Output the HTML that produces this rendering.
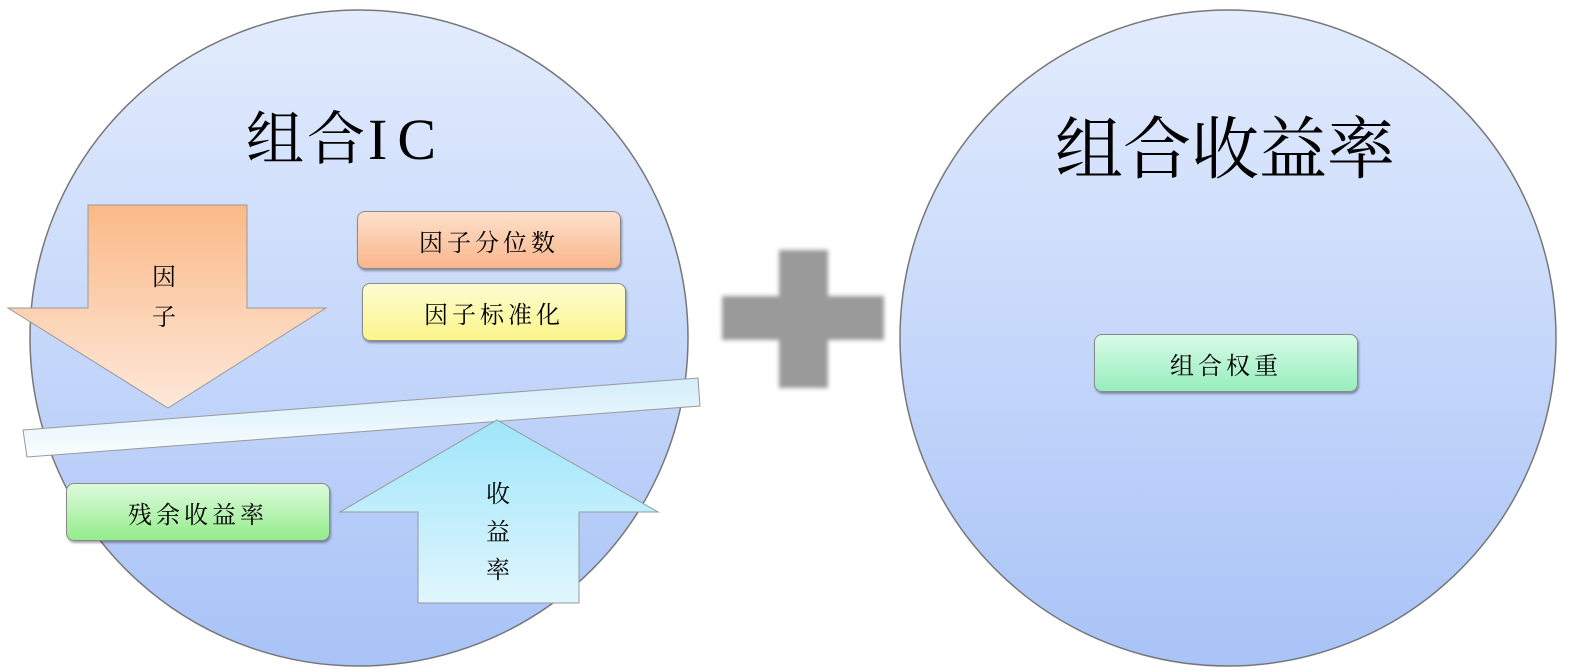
<!DOCTYPE html>
<html><head><meta charset="utf-8"><style>
body{margin:0;width:1569px;height:672px;background:#fff;overflow:hidden;position:relative;font-family:"Liberation Serif","Noto Serif CJK SC",serif}
.t{position:absolute;color:#000;white-space:nowrap}
.box{position:absolute;width:262px;height:56px;border:1px solid #8a8a8a;border-radius:8px;box-shadow:1px 2px 2px rgba(0,0,0,.35);display:flex;align-items:center;justify-content:center;font-size:24px;letter-spacing:4px}
</style></head><body>
<svg width="1569" height="672" style="position:absolute;left:0;top:0">
<defs>
<linearGradient id="c" x1="0" y1="0" x2="0" y2="1"><stop offset="0" stop-color="#e3ecfd"/><stop offset="1" stop-color="#a9c3f7"/></linearGradient>
<linearGradient id="o" x1="0" y1="0" x2="0" y2="1"><stop offset="0" stop-color="#fbb987"/><stop offset="1" stop-color="#fde8da"/></linearGradient>
<linearGradient id="b" x1="0" y1="0" x2="0" y2="1"><stop offset="0" stop-color="#9fe6fb"/><stop offset="1" stop-color="#e0f6fd"/></linearGradient>
<linearGradient id="w" x1="0" y1="0" x2="0" y2="1"><stop offset="0" stop-color="#d3eefb"/><stop offset="1" stop-color="#fafdff"/></linearGradient>
<filter id="bl"><feGaussianBlur stdDeviation="2"/></filter>
</defs>
<ellipse cx="359" cy="338" rx="329" ry="328" fill="url(#c)" stroke="#777" stroke-width="1.5"/>
<ellipse cx="1228" cy="338" rx="328" ry="328" fill="url(#c)" stroke="#777" stroke-width="1.5"/>
<polygon points="88,205 247,205 247,308 326,308 168,408 8,308 88,308" fill="url(#o)" stroke="#999"/>
<polygon points="23,430 698,378 700,406 27,457" fill="url(#w)" stroke="#999"/>
<polygon points="497,420 658,512 579,512 579,603 418,603 418,512 340,512" fill="url(#b)" stroke="#999"/>
<g fill="#9a9a9a" filter="url(#bl)"><rect x="722" y="296" width="162" height="44"/><rect x="779" y="250" width="49" height="138"/></g>
</svg>
<div class="t" style="left:246px;top:92px;font-size:58px;letter-spacing:3px">组合<span style="letter-spacing:10px">IC</span></div>
<div class="t" style="left:1055px;top:96px;font-size:68px">组合收益率</div>
<div class="t" style="left:152px;top:258px;font-size:24px;line-height:40px;width:30px">因<br>子</div>
<div class="t" style="left:486px;top:476px;font-size:24px;line-height:38px;width:30px">收<br>益<br>率</div>
<div class="box" style="left:357px;top:211px;background:linear-gradient(#fde0cb,#f9b68c)">因子分位数</div>
<div class="box" style="left:362px;top:283px;background:linear-gradient(#fdfcd2,#fbf58a)">因子标准化</div>
<div class="box" style="left:66px;top:483px;background:linear-gradient(#ddfbdc,#94ec8c)">残余收益率</div>
<div class="box" style="left:1094px;top:334px;background:linear-gradient(#d8fbe8,#97eebd)">组合权重</div>
</body></html>
